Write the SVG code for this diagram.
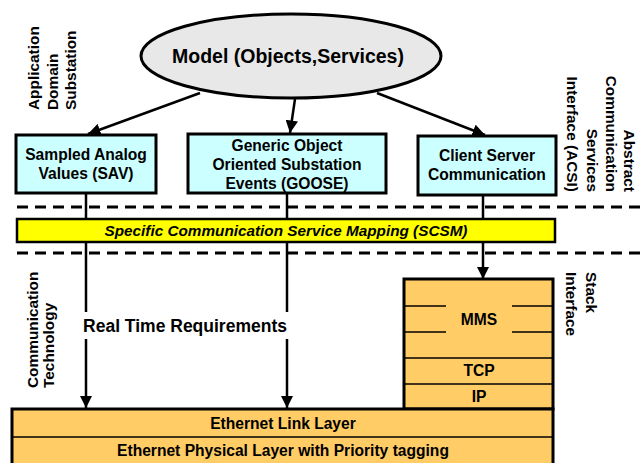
<svg xmlns="http://www.w3.org/2000/svg" width="641" height="463" viewBox="0 0 641 463">
<style>
text{font-family:"Liberation Sans",Arial,sans-serif;font-weight:bold;fill:#000}
.c{text-anchor:middle}
.box{fill:#CCFFFF;stroke:#000;stroke-width:3}
.org{fill:#FFCC66;stroke:#000;stroke-width:3}
.thin{stroke:#000;stroke-width:1.3;fill:none}
.dash{stroke:#000;stroke-width:3;stroke-dasharray:11 7;fill:none}
.ln{stroke:#000;stroke-width:2.5;fill:none}
</style>
<defs>
<marker id="ah" viewBox="0 0 10 10" refX="10" refY="5" markerWidth="5" markerHeight="5" orient="auto" markerUnits="strokeWidth">
<path d="M0,0 L10,5 L0,10 Z" fill="#000"/>
</marker>
</defs>
<rect width="641" height="463" fill="#fff"/>

<g id="dashes">
<line class="dash" x1="17" y1="207" x2="641" y2="207"/>
<line class="dash" x1="17" y1="253" x2="641" y2="253"/>
</g>

<g id="connectors">
<line class="ln" x1="200" y1="93" x2="88" y2="134" marker-end="url(#ah)"/>
<line class="ln" x1="295" y1="99" x2="290" y2="133" marker-end="url(#ah)"/>
<line class="ln" x1="377" y1="93" x2="485" y2="135" marker-end="url(#ah)"/>
<line class="ln" x1="86" y1="193" x2="86" y2="408" marker-end="url(#ah)"/>
<line class="ln" x1="287" y1="193" x2="287" y2="408" marker-end="url(#ah)"/>
<line class="ln" x1="483" y1="195" x2="483" y2="279" marker-end="url(#ah)"/>
</g>

<g id="scsm">
<rect x="17" y="219" width="538" height="23" fill="#FFFF00" stroke="#000" stroke-width="2.5"/>
<text x="286" y="236" class="c" font-size="15.3" font-style="italic">Specific Communication Service Mapping (SCSM)</text>
</g>

<g id="model">
<ellipse cx="291" cy="56" rx="150" ry="42" fill="#E8E8E8" stroke="#000" stroke-width="3"/>
<text x="288" y="63" class="c" font-size="19.5">Model (Objects,Services)</text>
</g>

<g id="sav">
<rect class="box" x="16" y="135" width="140" height="58"/>
<text x="86" y="160" class="c" font-size="15.6">Sampled Analog</text>
<text x="86" y="179" class="c" font-size="15.6">Values (SAV)</text>
</g>

<g id="goose">
<rect class="box" x="188" y="134" width="198" height="59"/>
<text x="287" y="151" class="c" font-size="15.6">Generic Object</text>
<text x="287" y="170" class="c" font-size="15.6">Oriented Substation</text>
<text x="287" y="189" class="c" font-size="15.6">Events (GOOSE)</text>
</g>

<g id="client">
<rect class="box" x="418" y="136" width="138" height="59"/>
<text x="487" y="161" class="c" font-size="15.6">Client Server</text>
<text x="487" y="180" class="c" font-size="15.6">Communication</text>
</g>

<g id="rt">
<rect x="80" y="312" width="212" height="27" fill="#fff"/>
<text x="185" y="332" class="c" font-size="17.5">Real Time Requirements</text>
</g>

<g id="stack">
<rect class="org" x="404" y="279" width="149" height="130"/>
<line class="thin" x1="404" y1="306" x2="446" y2="306"/>
<line class="thin" x1="512" y1="306" x2="553" y2="306"/>
<line class="thin" x1="404" y1="332" x2="446" y2="332"/>
<line class="thin" x1="512" y1="332" x2="553" y2="332"/>
<line class="thin" x1="404" y1="358" x2="553" y2="358"/>
<line class="thin" x1="404" y1="384" x2="553" y2="384"/>
<text x="479" y="325" class="c" font-size="15.6">MMS</text>
<text x="479" y="376" class="c" font-size="15.6">TCP</text>
<text x="479" y="402" class="c" font-size="15.6">IP</text>
</g>

<g id="ethernet">
<rect class="org" x="12" y="409" width="541" height="58"/>
<line class="thin" x1="12" y1="437" x2="553" y2="437"/>
<text x="283" y="429" class="c" font-size="15.6">Ethernet Link Layer</text>
<text x="283" y="456" class="c" font-size="15.6">Ethernet Physical Layer with Priority tagging</text>
</g>

<g id="side-labels" font-size="15.4">
<text transform="translate(39,110) rotate(-90)">Application</text>
<text transform="translate(58,110) rotate(-90)">Domain</text>
<text transform="translate(76,110) rotate(-90)">Substation</text>
<text transform="translate(624,192) rotate(90)" text-anchor="end">Abstract</text>
<text transform="translate(606,192) rotate(90)" text-anchor="end">Communication</text>
<text transform="translate(587,192) rotate(90)" text-anchor="end">Services</text>
<text transform="translate(567,192) rotate(90)" text-anchor="end">Interface (ACSI)</text>
<text transform="translate(586,272) rotate(90)">Stack</text>
<text transform="translate(566,272) rotate(90)">Interface</text>
<text transform="translate(38,388) rotate(-90)">Communication</text>
<text transform="translate(54,388) rotate(-90)">Technology</text>
</g>
</svg>
